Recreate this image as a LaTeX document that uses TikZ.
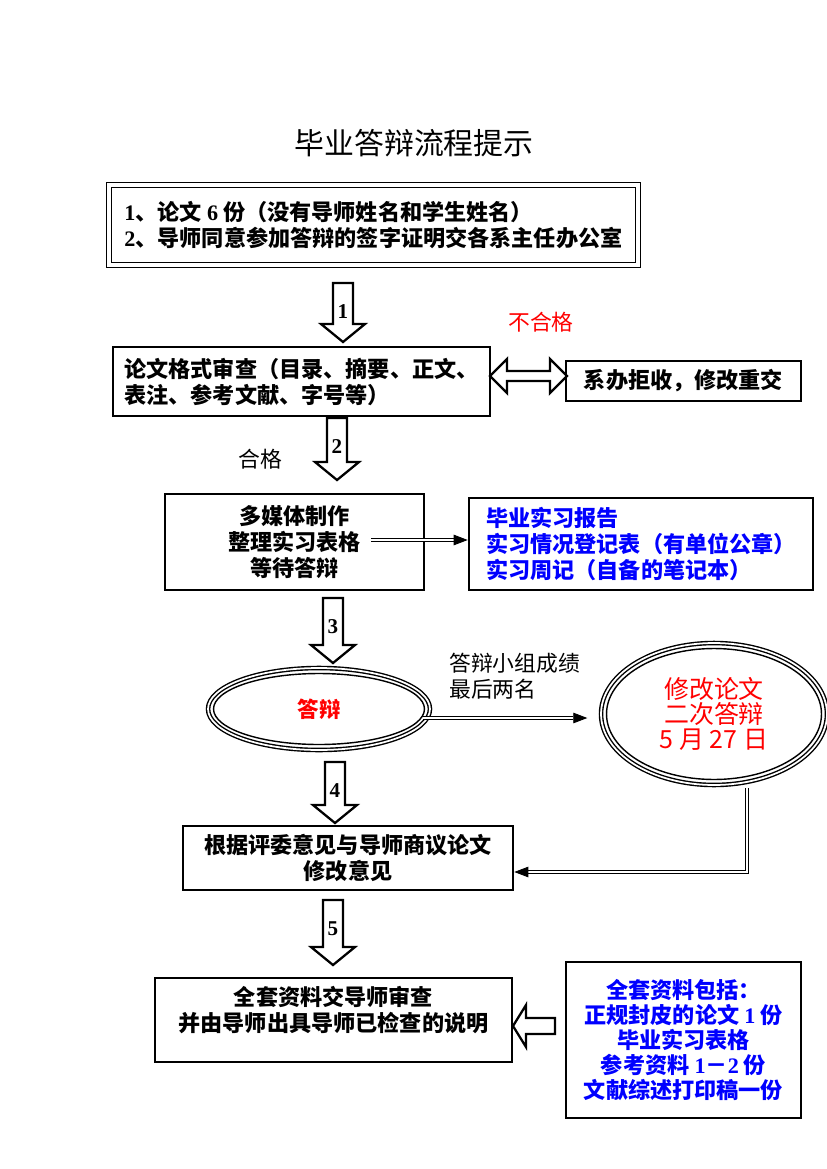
\documentclass[tikz,border=0pt]{standalone}
\usepackage{fontspec}
\setmainfont{Noto Sans CJK SC}
\newfontfamily\lat{Liberation Serif}
\usetikzlibrary{shapes.geometric,arrows.meta,calc}

\begin{document}
\begin{tikzpicture}[x=0.02cm,y=-0.02cm,
  box/.style={draw,line width=1.5pt,font=\bfseries\fontsize{12.6}{14.8}\selectfont,inner sep=0pt},
  blk/.style={draw,line width=1.3pt,fill=white,line join=miter},
  dline/.style={double,double distance=1.1pt,line width=0.5pt,-{Triangle[length=8pt,width=6pt]}},
  oval/.style={ellipse,draw,double,double distance=1pt,line width=0.8pt,inner sep=0pt},
  note/.style={font=\fontsize{12.4}{14.6}\selectfont}]
\useasboundingbox (0,0) rectangle (826,1169);

\node[font=\fontsize{17}{20}\selectfont] (title) at (414,143) {毕业答辩流程提示};

% boxes
\node[box,double,double distance=2pt,line width=0.8pt,minimum width=10.58cm,minimum height=1.6cm,align=left] (submit) at (373.5,225)
  {{\lat 1}、论文 {\lat 6} 份（没有导师姓名和学生姓名）\\{\lat 2}、导师同意参加答辩的签字证明交各系主任办公室};
\node[box,minimum width=7.54cm,minimum height=1.38cm,align=left] (format) at (301.5,381.5)
  {论文格式审查（目录、摘要、正文、\\表注、参考文献、字号等）};
\node[box,minimum width=4.7cm,minimum height=0.8cm] (reject) at (683.5,381) {系办拒收，修改重交};
\node[box,minimum width=5.18cm,minimum height=1.92cm,align=center] (prepare) at (294.5,542)
  {多媒体制作\\整理实习表格\\等待答辩};
\node[box,text=blue,minimum width=6.88cm,minimum height=1.84cm,align=left] (forms) at (641,544)
  {毕业实习报告\\实习情况登记表（有单位公章）\\实习周记（自备的笔记本）};
\node[box,minimum width=6.6cm,minimum height=1.28cm,align=center] (advice) at (348,858)
  {根据评委意见与导师商议论文\\修改意见};
\node[box,minimum width=7.14cm,minimum height=1.68cm] (check) at (333.5,1020) {};
\node[font=\bfseries\fontsize{12.6}{14.8}\selectfont,align=center] (checktext) at (333.5,1010)
  {全套资料交导师审查\\并由导师出具导师已检查的说明};
\node[box,text=blue,minimum width=4.7cm,minimum height=3.12cm,align=center,font=\bfseries\fontsize{12.6}{14.3}\selectfont] (package) at (683.5,1040)
  {全套资料包括：\\正规封皮的论文 {\lat 1} 份\\毕业实习表格\\参考资料 {\lat 1}－{\lat 2} 份\\文献综述打印稿一份};

% ovals
\node[oval,minimum width=4.44cm,minimum height=1.64cm,text=red,font=\bfseries\fontsize{12.2}{14}\selectfont] (defense) at (319,709) {答辩};
\draw[line width=0.8pt] (defense.center) ellipse [x radius=2.11cm,y radius=0.71cm];
\node[oval,minimum width=4.52cm,minimum height=2.84cm,text=red,align=center,font=\fontsize{14.2}{14.2}\selectfont] (revise) at (714,714)
  {修改论文\\二次答辩\\5 月 27 日};
\draw[line width=0.8pt] (revise.center) ellipse [x radius=2.15cm,y radius=1.31cm];

% labels
\node[note,text=red] (fail) at (541,322) {不合格};
\node[note] (pass) at (260,459) {合格};
\node[note,anchor=west,align=left] (lowest) at (443,676) {答辩小组成绩\\最后两名};

% block arrows
\foreach \cx/\ya/\yb/\n in {343/283/342/1,337/418/480/2,333/598/663/3,335/762/823/4,333/900/965/5}{
  \draw[blk] (\cx-10,\ya) -- (\cx+10,\ya) -- (\cx+10,\yb-18) -- (\cx+22,\yb-18) -- (\cx,\yb)
    -- (\cx-22,\yb-18) -- (\cx-10,\yb-18) -- cycle;
  \node[font=\lat\bfseries\fontsize{12}{14}\selectfont] (num\n) at (\cx,\ya+29) {\n};
}
\draw[blk] (490,376) -- (507,359) -- (507,371) -- (550,371) -- (550,359) -- (567,376)
  -- (550,393) -- (550,381) -- (507,381) -- (507,393) -- cycle;
\draw[blk] (513,1026) -- (526,1005) -- (526,1018) -- (555,1018) -- (555,1034) -- (526,1034) -- (526,1047) -- cycle;

% connectors
\coordinate (m3) at (371,540);
\draw[dline] (m3) -- (m3 -| forms.west);
\coordinate (d1) at (423,718);
\draw[dline,shorten >=0.26cm] (d1) -- (d1 -| revise.west);
\coordinate (r1) at (747,788);
\coordinate (r2) at ([yshift=-0.28cm]advice.east);
\draw[dline] (r1) -- (r1 |- r2) -- (r2);
\end{tikzpicture}
\end{document}
